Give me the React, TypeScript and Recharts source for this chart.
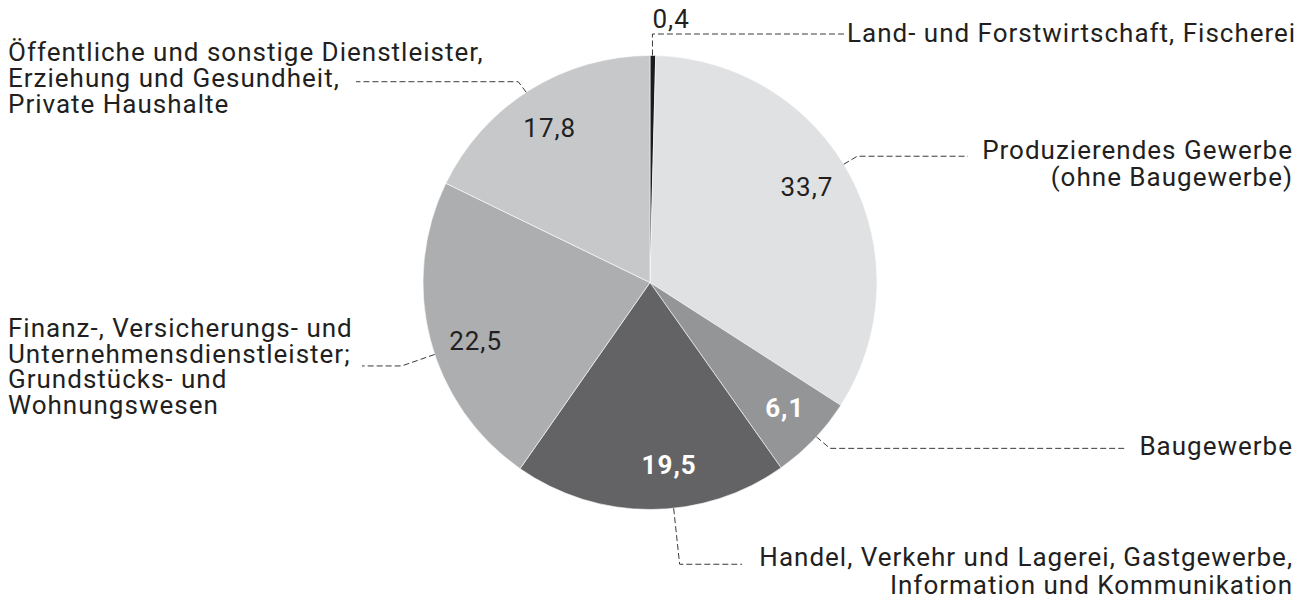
import { PieChart, Pie, Cell } from 'recharts';

const sectors = [
  'Land- und Forstwirtschaft, Fischerei',
  'Produzierendes Gewerbe (ohne Baugewerbe)',
  'Baugewerbe',
  'Handel, Verkehr und Lagerei, Gastgewerbe, Information und Kommunikation',
  'Finanz-, Versicherungs- und Unternehmensdienstleister; Grundstücks- und Wohnungswesen',
  'Öffentliche und sonstige Dienstleister, Erziehung und Gesundheit, Private Haushalte',
];

const shares = [0.4, 33.7, 6.1, 19.5, 22.5, 17.8];

// how each sector name is broken into lines beside the pie
const labelLines = [
  ['Land- und Forstwirtschaft, Fischerei'],
  ['Produzierendes Gewerbe', '(ohne Baugewerbe)'],
  ['Baugewerbe'],
  ['Handel, Verkehr und Lagerei, Gastgewerbe,', 'Information und Kommunikation'],
  ['Finanz-, Versicherungs- und', 'Unternehmensdienstleister;', 'Grundstücks- und', 'Wohnungswesen'],
  ['Öffentliche und sonstige Dienstleister,', 'Erziehung und Gesundheit,', 'Private Haushalte'],
];

const sliceColors = ['#1c1c1c', '#e0e1e3', '#949597', '#636365', '#adaeb0', '#c7c8ca'];
const valueColors = ['#231f20', '#231f20', '#ffffff', '#ffffff', '#231f20', '#231f20'];
const valueBold = [false, false, true, true, false, false];

// callout layout: angle shift (deg, + = counterclockwise), elbow offset from the rim,
// end of the dashed run, text anchor and baselines
const callouts = [
  { shift: 0.1, elbow: [0, -21.5], endX: 845, textX: 847, anchor: 'start', baselines: [42] },
  { shift: 3.5, elbow: [13.5, -8], endX: 968, textX: 1293, anchor: 'end', baselines: [159, 186] },
  { shift: 0.9, elbow: [13.5, 11.5], endX: 1125, textX: 1293, anchor: 'end', baselines: [455] },
  { shift: 5.8, elbow: [6, 56], endX: 742, textX: 1293, anchor: 'end', baselines: [566, 594] },
  { shift: 3.9, elbow: [-33, 11.5], endX: 362, textX: 8, anchor: 'start', baselines: [337, 362.5, 388, 414] },
  { shift: 1, elbow: [-8, -10.5], endX: 356, textX: 8, anchor: 'start', baselines: [61, 87, 113] },
];

const RADIAN = Math.PI / 180;
const FONT = 'Roboto, "Liberation Sans", sans-serif';
const FONT_SIZE = 26;
const SPACING = 1;
const formatShare = (v: number) => v.toFixed(1).replace('.', ',');

const data = sectors.map((name, i) => ({ name, value: shares[i] }));

function renderLabel(props: any) {
  const { cx, cy, midAngle, outerRadius, index, value } = props;
  const c = callouts[index];
  const angle = (midAngle + c.shift) * RADIAN;
  const cos = Math.cos(-angle);
  const sin = Math.sin(-angle);
  const ex = cx + outerRadius * cos;
  const ey = cy + outerRadius * sin;
  const bx = ex + c.elbow[0];
  const by = ey + c.elbow[1];
  const small = value < 1;
  const vr = outerRadius * 0.81;
  const vx = small ? bx : cx + vr * cos;
  const vy = small ? by - 6 : cy + vr * sin;

  return (
    <g key={`label-${index}`}>
      <polyline
        points={`${ex},${ey} ${bx},${by} ${c.endX},${by}`}
        fill="none"
        stroke="#3a3a3a"
        strokeWidth={1}
        strokeDasharray="6 3"
      />
      <text
        x={vx}
        y={vy}
        textAnchor={small ? 'start' : 'middle'}
        dominantBaseline={small ? 'auto' : 'central'}
        fill={valueColors[index]}
        fontFamily={FONT}
        fontSize={FONT_SIZE}
        letterSpacing={SPACING}
        fontWeight={valueBold[index] ? 700 : 400}
      >
        {formatShare(value)}
      </text>
      {labelLines[index].map((line, j) => (
        <text
          key={j}
          x={c.textX}
          y={c.baselines[j]}
          textAnchor={c.anchor as any}
          fill="#231f20"
          fontFamily={FONT}
          fontSize={FONT_SIZE}
          letterSpacing={SPACING}
        >
          {line}
        </text>
      ))}
    </g>
  );
}

export default function App() {
  return (
    <div style={{ width: 1307, height: 606, background: '#fff' }}>
      <style>{'body{margin:0}'}</style>
      <PieChart width={1307} height={606} margin={{ top: 0, right: 0, bottom: 0, left: 0 }}>
        <Pie
          data={data}
          dataKey="value"
          nameKey="name"
          cx={650}
          cy={282.5}
          outerRadius={227}
          startAngle={90}
          endAngle={-270}
          stroke="#ffffff"
          strokeWidth={0.6}
          label={renderLabel}
          labelLine={false}
          isAnimationActive={false}
        >
          {data.map((d, i) => (
            <Cell key={d.name} fill={sliceColors[i]} />
          ))}
        </Pie>
      </PieChart>
    </div>
  );
}
